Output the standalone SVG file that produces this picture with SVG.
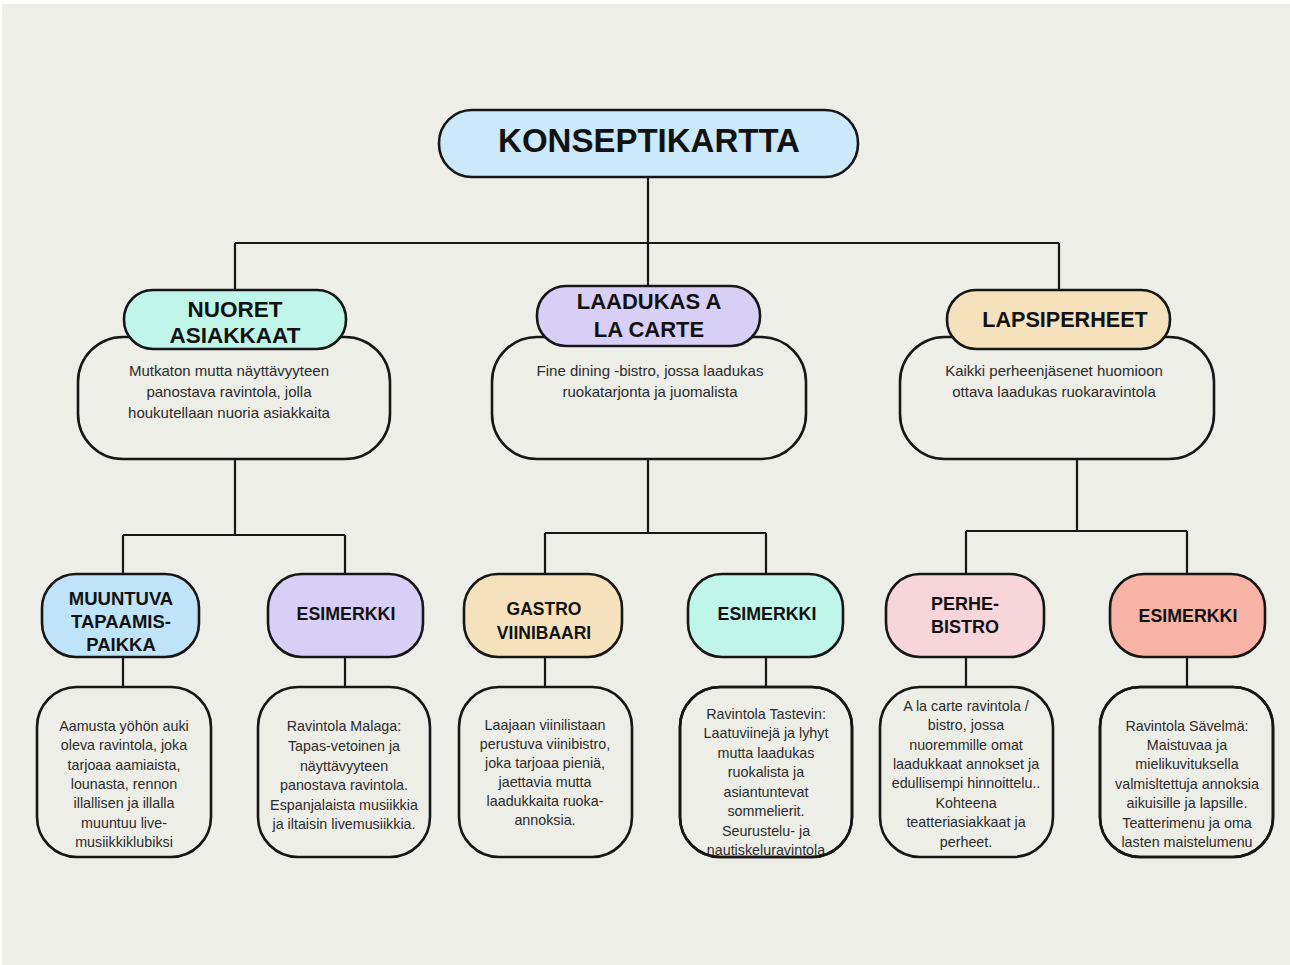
<svg xmlns="http://www.w3.org/2000/svg" width="1290" height="965" viewBox="0 0 1290 965">
<style>
.bg{fill:#eeeee8}
.edge{fill:none;stroke:#161616;stroke-width:2.2}
.box{stroke:#161616;stroke-width:2.6}
.desc{fill:#eeeee8;stroke:#161616;stroke-width:2.6}
.h{font-family:"Liberation Sans",Arial,sans-serif;font-weight:bold;fill:#121212;text-anchor:middle}
.t{font-family:"Liberation Sans",Arial,sans-serif;fill:#2a2a2a;text-anchor:middle}
.t1{font-size:15px}
.t2{font-size:14.3px}
</style>
<defs>
<clipPath id="c4"><rect x="680" y="687" width="172" height="170" rx="40"/></clipPath>
<clipPath id="c6"><rect x="1100" y="687" width="173" height="170" rx="40"/></clipPath>
</defs>
<rect width="1290" height="965" fill="#ffffff"/>
<rect class="bg" x="2" y="4" width="1288" height="961"/>

<g id="connectors">
<path class="edge" d="M648 177V243M235 243H1059M235 243V290M648 243V286M1059 243V290"/>
<path class="edge" d="M235 459V535M123 535H345M123 535V575M345 535V573"/>
<path class="edge" d="M648 459V533M545 533H766M545 533V573M766 533V573"/>
<path class="edge" d="M1077 459V531M966 531H1187M966 531V573M1187 531V573"/>
<path class="edge" d="M123 657V687M345 657V687M545 657V687M766 657V687M966 657V687M1187 657V687"/>
</g>

<g id="title">
<rect class="box" x="439" y="110" width="419" height="67" rx="33" fill="#cce8fb"/>
<text class="h" x="649" y="152" font-size="33">KONSEPTIKARTTA</text>
</g>

<g id="nuoret">
<rect class="desc" x="78" y="337" width="312" height="122" rx="45"/>
<rect class="box" x="124" y="290" width="222" height="59" rx="29" fill="#c0f5e9"/>
<text class="h" x="235" y="317" font-size="22.5">NUORET</text>
<text class="h" x="235" y="343" font-size="22.5">ASIAKKAAT</text>
<text class="t t1" x="229" y="376">Mutkaton mutta näyttävyyteen</text>
<text class="t t1" x="229" y="397">panostava ravintola, jolla</text>
<text class="t t1" x="229" y="418">houkutellaan nuoria asiakkaita</text>
</g>

<g id="laadukas">
<rect class="desc" x="492" y="337" width="314" height="122" rx="45"/>
<rect class="box" x="537" y="286" width="223" height="60" rx="29" fill="#d8cff7"/>
<text class="h" x="649" y="309" font-size="22">LAADUKAS A</text>
<text class="h" x="649" y="337" font-size="22">LA CARTE</text>
<text class="t t1" x="650" y="376">Fine dining -bistro, jossa laadukas</text>
<text class="t t1" x="650" y="397">ruokatarjonta ja juomalista</text>
</g>

<g id="lapsiperheet">
<rect class="desc" x="900" y="337" width="314" height="122" rx="45"/>
<rect class="box" x="947" y="290" width="223" height="59" rx="29" fill="#f5e2bd"/>
<text class="h" x="1065" y="327" font-size="21.6">LAPSIPERHEET</text>
<text class="t t1" x="1054" y="376">Kaikki perheenjäsenet huomioon</text>
<text class="t t1" x="1054" y="397">ottava laadukas ruokaravintola</text>
</g>

<g id="muuntuva">
<rect class="box" x="42" y="574" width="157" height="83" rx="34" fill="#bfe4fa"/>
<text class="h" x="121" y="605" font-size="18.5">MUUNTUVA</text>
<text class="h" x="121" y="628" font-size="18.5">TAPAAMIS-</text>
<text class="h" x="121" y="651" font-size="18.5">PAIKKA</text>
</g>

<g id="esimerkki1">
<rect class="box" x="268" y="574" width="155" height="83" rx="34" fill="#d8cff7"/>
<text class="h" x="346" y="620" font-size="17.8">ESIMERKKI</text>
</g>

<g id="gastro">
<rect class="box" x="464" y="574" width="158" height="83" rx="34" fill="#f5e2bd"/>
<text class="h" x="544" y="615" font-size="17.5">GASTRO</text>
<text class="h" x="544" y="639" font-size="17.5">VIINIBAARI</text>
</g>

<g id="esimerkki2">
<rect class="box" x="688" y="574" width="155" height="83" rx="34" fill="#c0f5e9"/>
<text class="h" x="767" y="620" font-size="17.8">ESIMERKKI</text>
</g>

<g id="perhebistro">
<rect class="box" x="886" y="574" width="158" height="83" rx="34" fill="#f8d4db"/>
<text class="h" x="965" y="610" font-size="18">PERHE-</text>
<text class="h" x="965" y="633" font-size="18">BISTRO</text>
</g>

<g id="esimerkki3">
<rect class="box" x="1110" y="574" width="155" height="83" rx="34" fill="#f7b4a6"/>
<text class="h" x="1188" y="622" font-size="17.8">ESIMERKKI</text>
</g>

<g id="kuvaus1">
<rect class="desc" x="37" y="687" width="174" height="170" rx="40"/>
<text class="t t2" x="124" y="731">Aamusta yöhön auki</text>
<text class="t t2" x="124" y="750">oleva ravintola, joka</text>
<text class="t t2" x="124" y="770">tarjoaa aamiaista,</text>
<text class="t t2" x="124" y="789">lounasta, rennon</text>
<text class="t t2" x="124" y="808">illallisen ja illalla</text>
<text class="t t2" x="124" y="828">muuntuu live-</text>
<text class="t t2" x="124" y="847">musiikkiklubiksi</text>
</g>

<g id="kuvaus2">
<rect class="desc" x="258" y="687" width="172" height="170" rx="40"/>
<text class="t t2" x="344" y="731">Ravintola Malaga:</text>
<text class="t t2" x="344" y="751">Tapas-vetoinen ja</text>
<text class="t t2" x="344" y="771">näyttävyyteen</text>
<text class="t t2" x="344" y="790">panostava ravintola.</text>
<text class="t t2" x="344" y="810">Espanjalaista musiikkia</text>
<text class="t t2" x="344" y="829">ja iltaisin livemusiikkia.</text>
</g>

<g id="kuvaus3">
<rect class="desc" x="459" y="687" width="173" height="170" rx="40"/>
<text class="t t2" x="545" y="730">Laajaan viinilistaan</text>
<text class="t t2" x="545" y="749">perustuva viinibistro,</text>
<text class="t t2" x="545" y="768">joka tarjoaa pieniä,</text>
<text class="t t2" x="545" y="787">jaettavia mutta</text>
<text class="t t2" x="545" y="806">laadukkaita ruoka-</text>
<text class="t t2" x="545" y="825">annoksia.</text>
</g>

<g id="kuvaus4">
<rect class="desc" x="680" y="687" width="172" height="170" rx="40"/>
<g clip-path="url(#c4)">
<text class="t t2" x="766" y="719">Ravintola Tastevin:</text>
<text class="t t2" x="766" y="738">Laatuviinejä ja lyhyt</text>
<text class="t t2" x="766" y="758">mutta laadukas</text>
<text class="t t2" x="766" y="777">ruokalista ja</text>
<text class="t t2" x="766" y="797">asiantuntevat</text>
<text class="t t2" x="766" y="816">sommelierit.</text>
<text class="t t2" x="766" y="836">Seurustelu- ja</text>
<text class="t t2" x="766" y="855">nautiskeluravintola</text>
</g>
<rect x="680" y="687" width="172" height="170" rx="40" fill="none" stroke="#161616" stroke-width="2.6"/>
</g>

<g id="kuvaus5">
<rect class="desc" x="880" y="687" width="173" height="170" rx="40"/>
<text class="t t2" x="966" y="711">A la carte ravintola /</text>
<text class="t t2" x="966" y="730">bistro, jossa</text>
<text class="t t2" x="966" y="750">nuoremmille omat</text>
<text class="t t2" x="966" y="769">laadukkaat annokset ja</text>
<text class="t t2" x="966" y="788">edullisempi hinnoittelu..</text>
<text class="t t2" x="966" y="808">Kohteena</text>
<text class="t t2" x="966" y="827">teatteriasiakkaat ja</text>
<text class="t t2" x="966" y="847">perheet.</text>
</g>

<g id="kuvaus6">
<rect class="desc" x="1100" y="687" width="173" height="170" rx="40"/>
<g clip-path="url(#c6)">
<text class="t t2" x="1187" y="731">Ravintola Sävelmä:</text>
<text class="t t2" x="1187" y="750">Maistuvaa ja</text>
<text class="t t2" x="1187" y="769">mielikuvituksella</text>
<text class="t t2" x="1187" y="789">valmisltettuja annoksia</text>
<text class="t t2" x="1187" y="808">aikuisille ja lapsille.</text>
<text class="t t2" x="1187" y="828">Teatterimenu ja oma</text>
<text class="t t2" x="1187" y="847">lasten maistelumenu</text>
</g>
<rect x="1100" y="687" width="173" height="170" rx="40" fill="none" stroke="#161616" stroke-width="2.6"/>
</g>
</svg>
